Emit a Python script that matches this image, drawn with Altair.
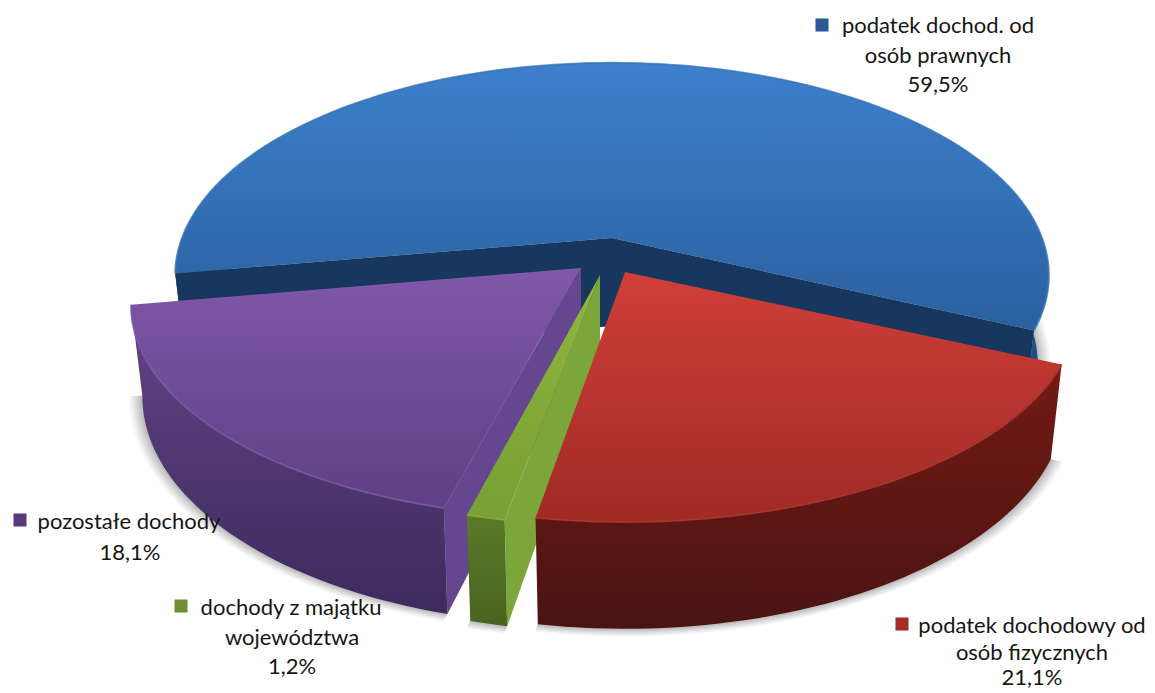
import math
import altair as alt

# --- values
categories = ["podatek dochod. od osób prawnych", "podatek dochodowy od osób fizycznych",
              "dochody z majątku województwa", "pozostałe dochody"]
shares = [59.5, 21.1, 1.2, 18.1]
label_lines = [["podatek dochod. od", "osób prawnych", "59,5%"],
               ["podatek dochodowy od", "osób fizycznych", "21,1%"],
               ["dochody z majątku", "województwa", "1,2%"],
               ["pozostałe dochody", "18,1%"]]

# --- layout / style
M = 8
W, H = 1139, 684
START = 170.4
RX, RY, P, DEPTH, SHRINK = 430, 206, 0.176, 88, 0.975
apexes = [(612, 238), (625, 272), (600, 275), (581, 268)]
x_stretch = [1.0, 1.035, 1.0, 1.03]   # perspective widening of the exploded slices
end_trim = [0.0, 1.0, 0.0, 0.0]       # perspective foreshortening, degrees
label_xy = [[(938, 26), (938, 56), (938, 85)],
            [(1032, 626), (1032, 653), (1032, 678)],
            [(291, 608), (292, 638), (292, 667)],
            [(129, 522), (130, 553)]]
square_xy = [(822, 25), (902, 624), (181, 606), (20, 520)]
square_col = ["#2a5a94", "#a52a28", "#6f8f30", "#563a7c"]
top_grad = [("#3d80cc", "#2a609f"), ("#cf3f38", "#a02a25"), ("#90b63e", "#76a033"), ("#8257aa", "#5e4084")]
rim_grad = [("#2a6099", "#1c4a7d"), ("#741a14", "#4a1412"), ("#5a7a28", "#4a6320"), ("#634487", "#3e2a5c")]
wall_col = ["#17375e", None, "#7ba63a", "#65468f"]
edge_col = ["#3a76b8", "#a83530", "#8aae3c", "#7a55a5"]
FONT = "Lato"
FONT_SIZE = 22


def grad(c):
    return alt.LinearGradient(gradient="linear", x1=0, x2=0, y1=0, y2=1,
                              stops=[alt.GradientStop(color=c[0], offset=0),
                                     alt.GradientStop(color=c[1], offset=1)])


def rim_top(k, deg):
    apex = apexes[k]
    t = math.radians(deg)
    u, v = math.cos(t), math.sin(t)
    s = 1 / (1 - P * v)
    return (apex[0] + x_stretch[k] * RX * u * s - M, apex[1] + RY * v * s - M)


def rim_bottom(k, deg, grow=1.0):
    apex = apexes[k]
    t = math.radians(deg)
    u, v = math.cos(t), math.sin(t)
    s = 1 / (1 - P * v)
    return (apex[0] + grow * SHRINK * x_stretch[k] * RX * u * s - M, apex[1] + grow * RY * v * s + DEPTH * s - M)


def feature(points):
    ring = [list(p) for p in points] + [list(points[0])]
    return {"type": "Feature", "properties": {}, "geometry": {"type": "Polygon", "coordinates": [ring]}}


def line_feature(points):
    return {"type": "Feature", "properties": {},
            "geometry": {"type": "LineString", "coordinates": [list(p) for p in points]}}


def shape(features, **mark):
    return alt.Chart(alt.Data(values=features, format=alt.DataFormat(type="json"))).mark_geoshape(**mark).project(
        type="identity", scale=1, translate=[0, 0])


# angular span of every slice, clockwise on screen
spans, a = [], START
for i, sh in enumerate(shares):
    b = a + sh * 3.6
    spans.append((a, b - end_trim[i]))
    a = b


def arc(a0, a1):
    n = max(2, int(abs(a1 - a0) / 1.5))
    return [a0 + (a1 - a0) * i / n for i in range(n + 1)]


layers = []
# soft shadow
for grow, op in [(1.03, 0.05), (1.025, 0.06), (1.02, 0.07), (1.015, 0.08), (1.01, 0.09), (1.005, 0.1)]:
    fs = []
    for k in range(4):
        ap = apexes[k]
        base = (ap[0] - M, ap[1] + DEPTH - M)
        fs.append(feature([base] + [rim_bottom(k, d, grow) for d in arc(*spans[k])]))
    layers.append(shape(fs, fill="#555555", fillOpacity=op, stroke=None))

for k in [0, 3, 2, 1]:
    ap = apexes[k]
    a0, a1 = spans[k]
    ts = arc(a0, a1)
    top0 = (ap[0] - M, ap[1] - M)
    bot0 = (ap[0] - M, ap[1] + DEPTH - M)
    # outer side
    layers.append(shape([feature([rim_top(k, d) for d in ts] + [rim_bottom(k, d) for d in reversed(ts)])],
                        fill=grad(rim_grad[k])))
    # cut walls
    if wall_col[k]:
        walls = [feature([top0, bot0, rim_bottom(k, a0), rim_top(k, a0)])]
        if k == 0:
            walls.append(feature([top0, bot0, rim_bottom(k, a1), rim_top(k, a1)]))
        layers.append(shape(walls, fill=wall_col[k]))
    # top
    layers.append(shape([feature([top0] + [rim_top(k, d) for d in ts])], fill=grad(top_grad[k])))
    # bevel highlight
    layers.append(shape([line_feature([rim_top(k, d) for d in ts])], filled=False,
                        stroke=edge_col[k], strokeWidth=2, strokeOpacity=0.8))

# legend squares
squares = [{"cat": categories[i], "x": square_xy[i][0] - M, "y": square_xy[i][1] - M, "col": square_col[i]}
           for i in range(4)]
layers.append(alt.Chart(alt.Data(values=squares)).mark_square(size=170, opacity=1).encode(
    x=alt.X("x:Q", scale=None, axis=None), y=alt.Y("y:Q", scale=None, axis=None),
    color=alt.Color("col:N", scale=None, legend=None)))

# labels
rows = []
for i, lines in enumerate(label_lines):
    for j, ln in enumerate(lines):
        rows.append({"t": ln, "x": label_xy[i][j][0] - M, "y": label_xy[i][j][1] - M})
layers.append(alt.Chart(alt.Data(values=rows)).mark_text(
    font=FONT, fontSize=FONT_SIZE, color="#151515", align="center", baseline="middle").encode(
    x=alt.X("x:Q", scale=None, axis=None), y=alt.Y("y:Q", scale=None, axis=None), text="t:N"))

chart = alt.layer(*layers).properties(
    width=W, height=H, padding=0, autosize=alt.AutoSizeParams(type="none"), background="white"
).configure_view(stroke=None)

chart.save("out.html", embed_options={"renderer": "svg", "actions": False})
